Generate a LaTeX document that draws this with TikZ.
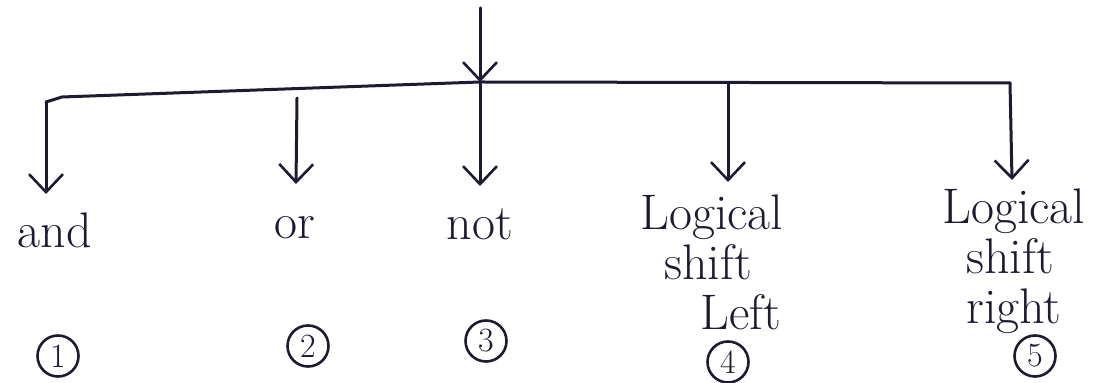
\documentclass[tikz,border=0pt]{standalone}
\usetikzlibrary{arrows.meta}
\definecolor{ink}{HTML}{1B1B33}
\begin{document}
\begin{tikzpicture}[x=0.5pt,y=-0.5pt,
  pen/.style={draw=ink,line width=1.5pt,line cap=round,line join=round},
  arr/.style={pen,-{Straight Barb[length=9pt,width=17pt,line width=1.3pt]}},
  lbl/.style={text=ink,font=\fontsize{25}{25}\selectfont,inner sep=0pt},
  num/.style={circle,draw=ink,line width=1.3pt,minimum size=20.5pt,inner sep=0pt,text=ink,font=\fontsize{17}{17}\selectfont}]
\useasboundingbox (0,0) rectangle (1112,383);
% top input and bar
\coordinate (top) at (480,8);
\coordinate (j) at (480,82);
\coordinate (bl0) at (46,102);
\coordinate (bl) at (62,97);
\coordinate (br) at (1010,83);
\draw[arr] (top) -- (j);
\draw[pen] (bl0) -- (bl) -- (j) -- (br);
% branch start points
\coordinate (s1) at (46,102);
\coordinate (s2) at (297,98);
\coordinate (s3) at (480,82);
\coordinate (s4) at (728,83);
\coordinate (s5) at (1010,83);
% branch tips
\coordinate (t1) at (46,194);
\coordinate (t2) at (296,184);
\coordinate (t3) at (480,186);
\coordinate (t4) at (728,182);
\coordinate (t5) at (1012,180);
\draw[arr] (s1) -- (t1);
\draw[arr] (s2) -- (t2);
\draw[arr] (s3) -- (t3);
\draw[arr] (s4) -- (t4);
\draw[arr] (s5) -- (t5);
% labels
\node[lbl] (and) at (55,230) {and};
\node[lbl] (or) at (295,228) {or};
\node[lbl] (not) at (480,224) {not};
\node[lbl,align=left,anchor=north west] (lsl) at (640,194) {Logical\\\hspace*{12pt}shift\\\hspace*{30pt}Left};
\node[lbl,align=left,anchor=north west] (lsr) at (942,188) {Logical\\\hspace*{12pt}shift\\\hspace*{12pt}right};
% circled numbers
\node[num] (n1) at (58,356) {1};
\node[num] (n2) at (308,346) {2};
\node[num] (n3) at (486,341) {3};
\node[num] (n4) at (728,362) {4};
\node[num] (n5) at (1035,356) {5};
\end{tikzpicture}
\end{document}
